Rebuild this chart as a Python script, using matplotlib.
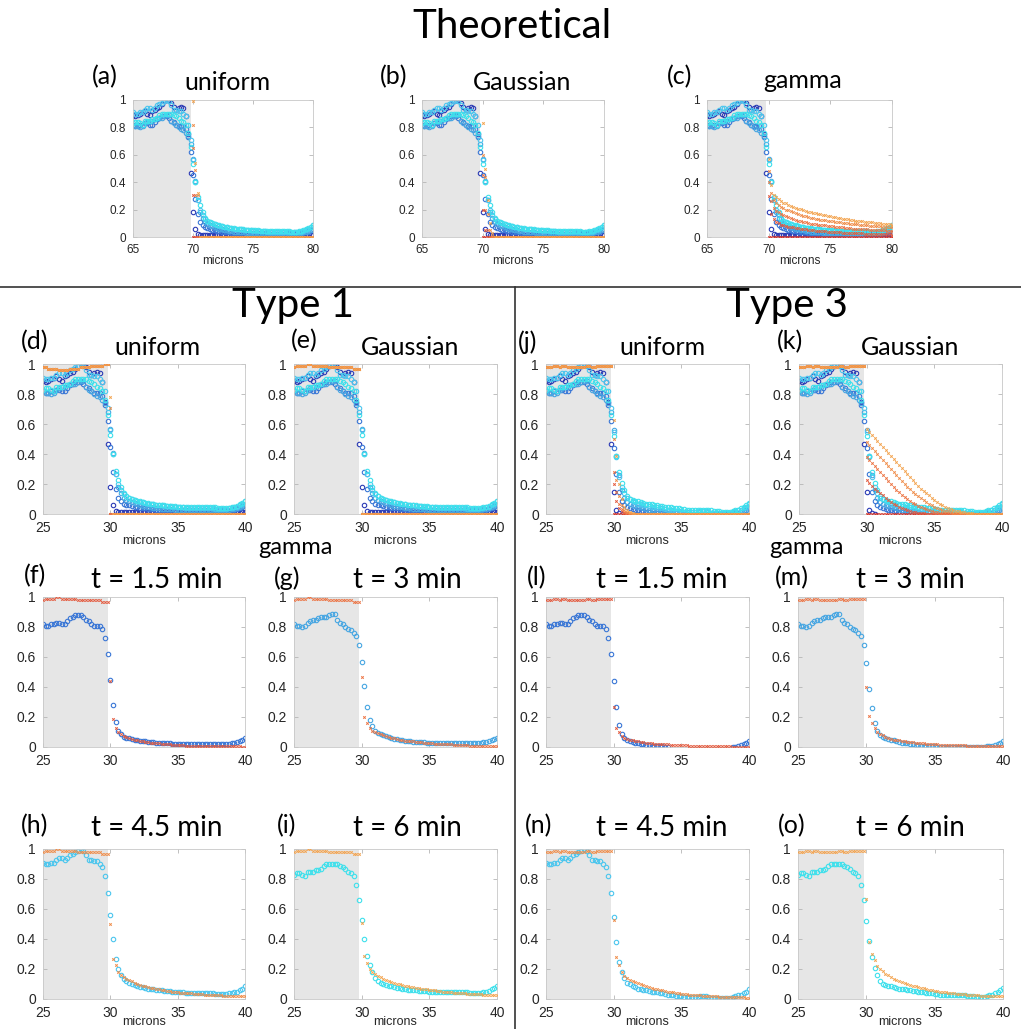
import numpy as np
import matplotlib
matplotlib.use('Agg')
import matplotlib.pyplot as plt
from matplotlib.lines import Line2D

# sample positions (microns); the first 25 samples lie inside the cell
x_grid = np.linspace(25.0, 40.0, 76)
n_cell = 25
x_ticks = [25, 30, 35, 40]
y_ticks = [0, 0.2, 0.4, 0.6, 0.8, 1]
y_ticklabels = ['0', '0.2', '0.4', '0.6', '0.8', '1']

# measured profiles inside the cell (25.0 .. 29.8), one per time point
cell_t0 = [0.89, 0.88, 0.89, 0.90, 0.91, 0.92, 0.90, 0.89, 0.92, 0.93,
           0.94, 0.95, 0.97, 0.99, 1.00, 1.00, 0.98, 0.95, 0.93, 0.94,
           0.95, 0.94, 0.88, 0.75, 0.47]
cell_t15 = [0.82, 0.81, 0.81, 0.82, 0.82, 0.83, 0.83, 0.82, 0.82, 0.84,
            0.86, 0.87, 0.88, 0.88, 0.88, 0.87, 0.85, 0.84, 0.82, 0.81,
            0.81, 0.81, 0.79, 0.73, 0.62]
cell_t3 = [0.82, 0.81, 0.81, 0.80, 0.81, 0.83, 0.84, 0.85, 0.85, 0.86,
           0.87, 0.87, 0.87, 0.88, 0.89, 0.89, 0.85, 0.83, 0.82, 0.80,
           0.79, 0.78, 0.76, 0.74, 0.68]
cell_t45 = [0.91, 0.90, 0.90, 0.91, 0.91, 0.93, 0.94, 0.94, 0.93, 0.94,
            0.96, 0.97, 0.98, 0.99, 1.00, 0.99, 0.96, 0.93, 0.93, 0.92,
            0.92, 0.90, 0.88, 0.82, 0.71]
cell_t6 = [0.83, 0.84, 0.84, 0.83, 0.82, 0.85, 0.85, 0.85, 0.86, 0.86,
           0.87, 0.89, 0.90, 0.90, 0.90, 0.90, 0.90, 0.89, 0.88, 0.87,
           0.85, 0.84, 0.82, 0.76, 0.66]

# measured profiles outside the cell (30.0 .. 40.0), Type 1 background
out1_t0 = [0.18, 0.06, 0.02, 0.016, 0.015,
           0.015, 0.015, 0.014, 0.014, 0.014,
           0.014, 0.013, 0.013, 0.013, 0.013,
           0.012, 0.012, 0.012, 0.012, 0.012,
           0.011, 0.011, 0.011, 0.011, 0.011,
           0.011, 0.01, 0.01, 0.01, 0.01,
           0.01, 0.01, 0.01, 0.01, 0.01,
           0.01, 0.01, 0.009, 0.009, 0.009,
           0.009, 0.009, 0.009, 0.009, 0.009,
           0.009, 0.009, 0.01, 0.01, 0.011,
           0.012]
out1_t15 = [0.45, 0.28, 0.17, 0.11, 0.085,
            0.07, 0.063, 0.058, 0.053, 0.05,
            0.046, 0.043, 0.04, 0.038, 0.035,
            0.033, 0.031, 0.03, 0.028, 0.027,
            0.026, 0.025, 0.024, 0.023, 0.022,
            0.022, 0.021, 0.021, 0.02, 0.02,
            0.02, 0.02, 0.02, 0.02, 0.02,
            0.02, 0.02, 0.02, 0.02, 0.02,
            0.02, 0.02, 0.02, 0.021, 0.022,
            0.025, 0.03, 0.035, 0.04, 0.05,
            0.06]
out1_t3 = [0.57, 0.41, 0.27, 0.18, 0.14,
           0.11, 0.095, 0.085, 0.078, 0.072,
           0.066, 0.06, 0.056, 0.052, 0.048,
           0.045, 0.042, 0.04, 0.038, 0.036,
           0.034, 0.033, 0.032, 0.031, 0.03,
           0.029, 0.028, 0.027, 0.027, 0.026,
           0.026, 0.025, 0.025, 0.025, 0.025,
           0.025, 0.025, 0.025, 0.025, 0.026,
           0.026, 0.027, 0.028, 0.029, 0.03,
           0.032, 0.035, 0.04, 0.045, 0.052,
           0.06]
out1_t45 = [0.56, 0.40, 0.27, 0.20, 0.16,
            0.135, 0.12, 0.11, 0.1, 0.093,
            0.088, 0.083, 0.078, 0.074, 0.07,
            0.067, 0.064, 0.062, 0.06, 0.058,
            0.056, 0.054, 0.052, 0.05, 0.048,
            0.046, 0.045, 0.044, 0.043, 0.042,
            0.041, 0.04, 0.04, 0.04, 0.04,
            0.04, 0.039, 0.038, 0.037, 0.036,
            0.035, 0.035, 0.035, 0.036, 0.038,
            0.04, 0.045, 0.05, 0.06, 0.07,
            0.085]
out1_t6 = [0.53, 0.40, 0.29, 0.23, 0.18,
           0.14, 0.12, 0.11, 0.1, 0.095,
           0.09, 0.085, 0.08, 0.076, 0.072,
           0.069, 0.066, 0.063, 0.061, 0.059,
           0.057, 0.055, 0.054, 0.052, 0.051,
           0.05, 0.049, 0.048, 0.047, 0.046,
           0.045, 0.045, 0.045, 0.045, 0.045,
           0.045, 0.045, 0.046, 0.047, 0.045,
           0.042, 0.04, 0.04, 0.04, 0.042,
           0.045, 0.05, 0.055, 0.065, 0.075,
           0.09]

# measured profiles outside the cell, Type 3 background (negatives fall off the axes)
out3_t0 = [0.15, 0.03, 0.004, 0.001, -0.002] + [-0.004] * 46
out3_t15 = [0.44, 0.27, 0.15, 0.09, 0.06,
            0.05, 0.04, 0.035, 0.03, 0.025,
            0.02, 0.02, 0.015, 0.015, 0.01,
            0.01, 0.008, 0.006, 0.004, 0.002,
            0.0, -0.002, -0.003, -0.004, -0.005,
            -0.005, -0.005, -0.005, -0.005, -0.005,
            -0.005, -0.005, -0.005, -0.005, -0.005,
            -0.005, -0.005, -0.005, -0.005, -0.005,
            -0.005, -0.005, -0.004, -0.003, 0.0,
            0.003, 0.008, 0.015, 0.022, 0.03,
            0.04]
out3_t3 = [0.56, 0.39, 0.26, 0.16, 0.11,
           0.08, 0.07, 0.06, 0.055, 0.05,
           0.045, 0.04, 0.035, 0.03, 0.028,
           0.025, 0.02, 0.018, 0.015, 0.012,
           0.01, 0.01, 0.008, 0.006, 0.005,
           0.004, 0.003, 0.003, 0.002, 0.002,
           0.002, 0.001, 0.001, 0.001, 0.001,
           0.001, 0.001, 0.001, 0.001, 0.001,
           0.001, 0.001, 0.002, 0.003, 0.004,
           0.006, 0.01, 0.015, 0.02, 0.03,
           0.04]
out3_t45 = [0.55, 0.38, 0.25, 0.18, 0.14,
            0.11, 0.1, 0.09, 0.08, 0.07,
            0.065, 0.06, 0.06, 0.055, 0.05,
            0.05, 0.045, 0.04, 0.04, 0.035,
            0.03, 0.03, 0.025, 0.02, 0.02,
            0.018, 0.016, 0.015, 0.015, 0.015,
            0.015, 0.016, 0.018, 0.02, 0.018,
            0.015, 0.01, 0.008, 0.006, 0.005,
            0.005, 0.006, 0.008, 0.01, 0.015,
            0.02, 0.025, 0.03, 0.04, 0.05,
            0.065]
out3_t6 = [0.52, 0.39, 0.28, 0.21, 0.16,
           0.12, 0.1, 0.095, 0.09, 0.085,
           0.08, 0.075, 0.07, 0.068, 0.065,
           0.06, 0.058, 0.055, 0.052, 0.05,
           0.048, 0.045, 0.042, 0.04, 0.038,
           0.035, 0.033, 0.03, 0.03, 0.028,
           0.027, 0.026, 0.025, 0.025, 0.025,
           0.025, 0.024, 0.022, 0.02, 0.018,
           0.016, 0.015, 0.014, 0.015, 0.02,
           0.025, 0.03, 0.04, 0.05, 0.06,
           0.075]

# model values inside the cell
model_cell_t1 = [0.98, 0.99, 0.99, 0.99, 0.99, 1.0, 1.0, 0.99, 0.99, 0.99,
                 0.99, 0.99, 0.99, 0.98, 0.98, 0.98, 0.98, 0.98, 0.98, 0.98,
                 0.98, 0.98, 0.97, 0.97, 0.97]
model_cell_t1_uniform = [0.98, 0.98, 0.97, 0.97, 0.97, 0.97, 0.96, 0.96, 0.96, 0.96,
                         0.97, 0.97, 0.97, 0.97, 0.98, 0.98, 0.98, 0.98, 0.99, 0.99,
                         0.99, 0.99, 0.99, 1.0, 1.0]
model_cell_t3 = [0.98, 0.98, 0.98, 0.99, 0.99, 0.98, 0.99, 0.99, 0.98, 0.98,
                 0.98, 0.98, 0.98, 0.98, 0.98, 0.99, 0.99, 0.98, 0.98, 0.99,
                 0.99, 0.99, 0.99, 0.99, 0.99]

zero_tail = [0.0] * 51

# theoretical model tails (70.0 .. 80.0)
theo_uni_t15 = [0.31] + [0.0] * 50
theo_uni_t3 = [0.65, 0.31] + [0.0] * 49
theo_uni_t45 = [0.82, 0.49, 0.31] + [0.0] * 48
theo_uni_t6 = [0.99, 0.54, 0.32] + [0.0] * 48

theo_gau_t15 = [0.2, 0.05] + [0.0] * 49
theo_gau_t3 = [0.45, 0.2, 0.05] + [0.0] * 48
theo_gau_t45 = [0.6, 0.44, 0.17, 0.05, 0.01] + [0.0] * 46
theo_gau_t6 = [0.83, 0.5, 0.27, 0.1, 0.03] + [0.0] * 46

theo_gam_t15 = [0.3, 0.17, 0.13, 0.11, 0.1,
                0.09, 0.085, 0.08, 0.076, 0.072,
                0.07, 0.067, 0.064, 0.061, 0.058,
                0.055, 0.053, 0.051, 0.049, 0.047,
                0.045, 0.044, 0.042, 0.041, 0.04,
                0.038, 0.037, 0.036, 0.035, 0.034,
                0.032, 0.031, 0.03, 0.03, 0.029,
                0.028, 0.027, 0.027, 0.026, 0.025,
                0.024, 0.024, 0.023, 0.022, 0.022,
                0.021, 0.02, 0.02, 0.019, 0.019,
                0.018]
theo_gam_t3 = [0.4, 0.26, 0.21, 0.19, 0.18,
               0.17, 0.16, 0.15, 0.143, 0.136,
               0.13, 0.125, 0.12, 0.115, 0.11,
               0.106, 0.102, 0.098, 0.094, 0.092,
               0.09, 0.088, 0.086, 0.084, 0.082,
               0.08, 0.078, 0.076, 0.074, 0.072,
               0.07, 0.068, 0.066, 0.064, 0.062,
               0.06, 0.059, 0.058, 0.057, 0.056,
               0.055, 0.054, 0.053, 0.052, 0.051,
               0.05, 0.049, 0.048, 0.047, 0.046,
               0.045]
theo_gam_t45 = [0.48, 0.32, 0.27, 0.25, 0.235,
                0.22, 0.21, 0.2, 0.195, 0.187,
                0.18, 0.174, 0.168, 0.162, 0.156,
                0.15, 0.146, 0.142, 0.138, 0.134,
                0.13, 0.127, 0.124, 0.122, 0.12,
                0.118, 0.115, 0.112, 0.109, 0.106,
                0.104, 0.102, 0.1, 0.098, 0.096,
                0.094, 0.092, 0.09, 0.088, 0.086,
                0.084, 0.082, 0.08, 0.079, 0.078,
                0.077, 0.075, 0.074, 0.072, 0.071,
                0.07]
theo_gam_t6 = [0.57, 0.38, 0.31, 0.29, 0.275,
               0.26, 0.25, 0.245, 0.235, 0.228,
               0.22, 0.214, 0.208, 0.202, 0.196,
               0.19, 0.186, 0.182, 0.178, 0.174,
               0.17, 0.166, 0.162, 0.158, 0.154,
               0.15, 0.147, 0.144, 0.141, 0.138,
               0.135, 0.132, 0.129, 0.126, 0.123,
               0.12, 0.118, 0.116, 0.114, 0.112,
               0.11, 0.108, 0.106, 0.104, 0.102,
               0.1, 0.098, 0.096, 0.094, 0.092,
               0.09]

# Type 1 / Type 3 uniform and Gaussian model tails (30.0 .. 40.0)
t1_uni_t45 = [0.71] + [0.0] * 50
t1_uni_t6 = [0.78] + [0.0] * 50

t3_uni_t15 = [0.2, 0.09, 0.04, 0.02, 0.01, 0.005] + [0.0] * 45
t3_uni_t3 = [0.28, 0.15, 0.07, 0.035, 0.015, 0.007, 0.003] + [0.0] * 44
t3_uni_t45 = [0.5, 0.23, 0.12, 0.06, 0.03, 0.015, 0.007, 0.003] + [0.0] * 43
t3_uni_t6 = [0.63, 0.39, 0.2, 0.1, 0.05, 0.025, 0.012, 0.006, 0.003] + [0.0] * 42

t3_gau_t15 = [0.23, 0.21, 0.19, 0.17, 0.155,
              0.14, 0.125, 0.11, 0.095, 0.082,
              0.07, 0.06, 0.05, 0.041, 0.033,
              0.027, 0.021, 0.016, 0.012, 0.009,
              0.007, 0.005, 0.003, 0.002, 0.001] + [0.0] * 26
t3_gau_t3 = [0.38, 0.36, 0.34, 0.32, 0.30,
             0.28, 0.26, 0.24, 0.22, 0.20,
             0.18, 0.16, 0.145, 0.13, 0.115,
             0.10, 0.088, 0.076, 0.065, 0.055,
             0.046, 0.038, 0.031, 0.025, 0.02,
             0.016, 0.012, 0.009, 0.007, 0.005,
             0.004, 0.003, 0.002, 0.001] + [0.0] * 17
t3_gau_t45 = [0.48, 0.46, 0.44, 0.42, 0.40,
              0.38, 0.36, 0.34, 0.32, 0.30,
              0.28, 0.26, 0.24, 0.22, 0.20,
              0.18, 0.165, 0.15, 0.135, 0.12,
              0.105, 0.092, 0.08, 0.068, 0.058,
              0.048, 0.04, 0.033, 0.027, 0.022,
              0.017, 0.013, 0.01, 0.008, 0.006,
              0.004, 0.003, 0.002, 0.001, 0.001] + [0.0] * 11
t3_gau_t6 = [0.57, 0.55, 0.53, 0.51, 0.49,
             0.47, 0.45, 0.43, 0.41, 0.39,
             0.37, 0.35, 0.33, 0.31, 0.29,
             0.27, 0.25, 0.23, 0.21, 0.19,
             0.17, 0.155, 0.14, 0.125, 0.11,
             0.095, 0.082, 0.07, 0.06, 0.05,
             0.042, 0.035, 0.028, 0.023, 0.018,
             0.014, 0.011, 0.008, 0.006, 0.004,
             0.003, 0.002, 0.001, 0.001] + [0.0] * 7

# gamma model tails, one per time point
gam1_t15 = [0.44, 0.19, 0.13, 0.1, 0.085,
            0.075, 0.067, 0.06, 0.055, 0.05,
            0.045, 0.042, 0.039, 0.036, 0.033,
            0.03, 0.028, 0.026, 0.024, 0.022,
            0.02, 0.018, 0.017, 0.016, 0.014,
            0.013, 0.012, 0.011, 0.01, 0.0095,
            0.009, 0.0085, 0.008, 0.0075, 0.007,
            0.007, 0.0065, 0.006, 0.006, 0.0055,
            0.005, 0.005, 0.0045, 0.0045, 0.004,
            0.004, 0.004, 0.0035, 0.0035, 0.003,
            0.003]
gam1_t3 = [0.47, 0.2, 0.16, 0.13, 0.11,
           0.1, 0.092, 0.085, 0.078, 0.071,
           0.065, 0.061, 0.057, 0.053, 0.049,
           0.045, 0.043, 0.041, 0.039, 0.037,
           0.035, 0.033, 0.031, 0.029, 0.027,
           0.025, 0.024, 0.023, 0.022, 0.021,
           0.02, 0.019, 0.018, 0.017, 0.016,
           0.015, 0.014, 0.013, 0.012, 0.011,
           0.01, 0.0095, 0.009, 0.0085, 0.008,
           0.008, 0.007, 0.0065, 0.006, 0.0055,
           0.005]
gam1_t45 = [0.5, 0.27, 0.23, 0.18, 0.16,
            0.145, 0.135, 0.125, 0.117, 0.11,
            0.1, 0.095, 0.09, 0.085, 0.08,
            0.075, 0.071, 0.068, 0.064, 0.061,
            0.058, 0.055, 0.052, 0.05, 0.047,
            0.045, 0.043, 0.041, 0.04, 0.038,
            0.037, 0.036, 0.034, 0.033, 0.031,
            0.03, 0.029, 0.028, 0.027, 0.026,
            0.025, 0.024, 0.023, 0.022, 0.021,
            0.02, 0.02, 0.019, 0.018, 0.018,
            0.017]
gam1_t6 = [0.51, 0.29, 0.24, 0.2, 0.18,
           0.165, 0.155, 0.145, 0.135, 0.127,
           0.12, 0.114, 0.108, 0.103, 0.099,
           0.095, 0.09, 0.086, 0.082, 0.078,
           0.075, 0.072, 0.069, 0.066, 0.064,
           0.062, 0.059, 0.057, 0.055, 0.052,
           0.05, 0.048, 0.047, 0.045, 0.043,
           0.042, 0.04, 0.039, 0.037, 0.036,
           0.035, 0.034, 0.033, 0.032, 0.031,
           0.03, 0.029, 0.028, 0.027, 0.026,
           0.025]
gam3_t15 = [0.27, 0.13, 0.1, 0.075, 0.062,
            0.055, 0.05, 0.045, 0.041, 0.037,
            0.034, 0.031, 0.029, 0.027, 0.025,
            0.023, 0.021, 0.02, 0.019, 0.018,
            0.017, 0.016, 0.015, 0.014, 0.013,
            0.012, 0.011, 0.011, 0.01, 0.01,
            0.009, 0.009, 0.008, 0.008, 0.007,
            0.007, 0.006, 0.006, 0.005, 0.005,
            0.005, 0.004, 0.004, 0.004, 0.003,
            0.003, 0.003, 0.002, 0.002, 0.002,
            0.002]
gam3_t3 = [0.4, 0.21, 0.16, 0.125, 0.1,
           0.088, 0.078, 0.07, 0.062, 0.056,
           0.05, 0.047, 0.044, 0.041, 0.038,
           0.035, 0.033, 0.031, 0.029, 0.027,
           0.025, 0.024, 0.022, 0.021, 0.019,
           0.018, 0.017, 0.016, 0.015, 0.015,
           0.014, 0.013, 0.013, 0.012, 0.012,
           0.011, 0.011, 0.01, 0.009, 0.009,
           0.008, 0.008, 0.007, 0.007, 0.007,
           0.006, 0.006, 0.006, 0.005, 0.005,
           0.005]
gam3_t45 = [0.53, 0.28, 0.23, 0.18, 0.155,
            0.14, 0.13, 0.12, 0.112, 0.105,
            0.1, 0.093, 0.087, 0.081, 0.075,
            0.07, 0.066, 0.062, 0.058, 0.054,
            0.05, 0.047, 0.044, 0.041, 0.038,
            0.035, 0.033, 0.031, 0.03, 0.028,
            0.027, 0.025, 0.024, 0.022, 0.021,
            0.02, 0.019, 0.018, 0.017, 0.016,
            0.015, 0.014, 0.014, 0.013, 0.013,
            0.012, 0.012, 0.011, 0.011, 0.01,
            0.01]
gam3_t6 = [0.67, 0.38, 0.3, 0.26, 0.22,
           0.2, 0.185, 0.17, 0.157, 0.145,
           0.135, 0.127, 0.12, 0.113, 0.106,
           0.1, 0.095, 0.09, 0.085, 0.08,
           0.075, 0.071, 0.067, 0.063, 0.059,
           0.055, 0.052, 0.049, 0.047, 0.044,
           0.042, 0.04, 0.038, 0.036, 0.034,
           0.032, 0.031, 0.029, 0.028, 0.026,
           0.025, 0.024, 0.023, 0.022, 0.021,
           0.02, 0.02, 0.019, 0.018, 0.018,
           0.017]

# colours per time point: 0, 1.5, 3, 4.5, 6 min
data_colors = ['#2b3bb5', '#3a77d6', '#47a6e2', '#4bc6ee', '#3ee0ec']
model_colors = ['#d9352a', '#e45a3e', '#ec7444', '#f08c48', '#f3a34e']

cells = [cell_t0, cell_t15, cell_t3, cell_t45, cell_t6]
meas1 = [c + o for c, o in zip(cells, [out1_t0, out1_t15, out1_t3, out1_t45, out1_t6])]
meas3 = [c + o for c, o in zip(cells, [out3_t0, out3_t15, out3_t3, out3_t45, out3_t6])]

W, H = 1021, 1029
fig = plt.figure(figsize=(W / 100, H / 100), dpi=100)
TITLE_FONT = 'Lato'
TICK_FONT = 'Liberation Sans'


def px_box(l, t, r, b):
    return [l / W, 1 - b / H, (r - l) / W, (b - t) / H]


def label(x, y, s, size=18, va='center'):
    fig.text(x / W, 1 - y / H, s, ha='center', va=va,
             fontsize=size, family=TITLE_FONT, color='black')


def microns(x, y, size):
    fig.text(x / W, 1 - y / H, 'microns', ha='center', va='center',
             fontsize=size, family=TICK_FONT, color='#262626')


def panel(rect, shift, measured, m_cols, models, mod_cols, tsize=10):
    ax = fig.add_axes(px_box(*rect))
    x = x_grid + shift
    ax.axvspan(x[0], x[n_cell - 1], color='#e6e6e6', lw=0, zorder=0)
    for y, c in zip(measured, m_cols):
        y = np.asarray(y, float)
        keep = y >= 0
        ax.plot(x[keep], y[keep], ls='none', marker='o', ms=3.2,
                mfc='none', mec=c, mew=0.8, zorder=2)
    for y, c in zip(models, mod_cols):
        y = np.asarray(y, float)
        xs = x[-len(y):]
        ax.plot(xs, y, ls='none', marker='x', ms=1.8, mew=0.7,
                color=c, zorder=3)
    ax.set_xlim(x[0], x[-1])
    ax.set_ylim(0, 1)
    ax.set_xticks([t + shift for t in x_ticks])
    ax.set_xticklabels([str(t + shift) for t in x_ticks],
                       family=TICK_FONT, fontsize=tsize)
    ax.set_yticks(y_ticks)
    ax.set_yticklabels(y_ticklabels, family=TICK_FONT, fontsize=tsize)
    ax.tick_params(direction='in', length=3, width=0.6, color='#b5b5b5',
                   labelcolor='#262626', top=True, right=True)
    ax.tick_params(axis='x', pad=5)
    ax.tick_params(axis='y', pad=5)
    for s in ax.spines.values():
        s.set_color('#c8c8c8')
        s.set_linewidth(0.6)
    return ax


# Theoretical row
theo_models = {
    'uniform': [zero_tail, theo_uni_t15, theo_uni_t3, theo_uni_t45, theo_uni_t6],
    'Gaussian': [zero_tail, theo_gau_t15, theo_gau_t3, theo_gau_t45, theo_gau_t6],
    'gamma': [zero_tail, theo_gam_t15, theo_gam_t3, theo_gam_t45, theo_gam_t6],
}
theo_rects = [(133, 100, 313, 237), (422, 100, 604, 237), (707, 100, 892, 237)]
for rect, key in zip(theo_rects, ['uniform', 'Gaussian', 'gamma']):
    panel(rect, 40, meas1, data_colors, theo_models[key], model_colors, tsize=8.5)

label(512, 26, 'Theoretical', 29)
label(105, 77, '(a)')
label(227, 82, 'uniform')
label(394, 77, '(b)')
label(522, 82, 'Gaussian')
label(680, 77, '(c)')
label(803, 80, 'gamma')
for cx in [223, 513, 800]:
    microns(cx, 261, 8.5)

# Type 1 and Type 3: uniform / Gaussian
t1_uni = [model_cell_t1_uniform + t for t in [zero_tail, zero_tail, zero_tail, t1_uni_t45, t1_uni_t6]]
t1_gau = [model_cell_t1 + zero_tail for _ in range(5)]
t3_uni = [model_cell_t3 + t for t in [zero_tail, t3_uni_t15, t3_uni_t3, t3_uni_t45, t3_uni_t6]]
t3_gau = [model_cell_t3 + t for t in [zero_tail, t3_gau_t15, t3_gau_t3, t3_gau_t45, t3_gau_t6]]

panel((43, 364, 245, 514), 0, meas1, data_colors, t1_uni, model_colors)
panel((294, 364, 497, 514), 0, meas1, data_colors, t1_gau, model_colors)
panel((546, 364, 749, 514), 0, meas3, data_colors, t3_uni, model_colors)
panel((799, 364, 1002, 514), 0, meas3, data_colors, t3_gau, model_colors)

label(293, 305, 'Type 1', 29)
label(787, 305, 'Type 3', 29)
label(35, 342, '(d)')
label(157, 347, 'uniform')
label(304, 341, '(e)')
label(410, 347, 'Gaussian')
label(528, 342, '(j)')
label(662, 347, 'uniform')
label(790, 342, '(k)')
label(910, 347, 'Gaussian')
# gamma section headers sit just under the tick labels of the row above
label(295, 554, 'gamma', 17, va='baseline')
label(806, 554, 'gamma', 17, va='baseline')
for cx in [144, 395, 647, 900]:
    microns(cx, 541, 9)

# gamma rows, one time point per panel
gam1 = [gam1_t15, gam1_t3, gam1_t45, gam1_t6]
gam3 = [gam3_t15, gam3_t3, gam3_t45, gam3_t6]
gamma_rects_1 = [(43, 597, 245, 747), (294, 597, 497, 747),
                 (43, 849, 245, 999), (294, 849, 497, 999)]
gamma_rects_3 = [(546, 597, 749, 747), (798, 597, 1003, 747),
                 (546, 849, 749, 999), (798, 849, 1003, 999)]
for k in range(4):
    i = k + 1
    panel(gamma_rects_1[k], 0, [meas1[i]], [data_colors[i]],
          [model_cell_t1 + gam1[k]], [model_colors[i]])
    panel(gamma_rects_3[k], 0, [meas3[i]], [data_colors[i]],
          [model_cell_t3 + gam3[k]], [model_colors[i]])

label(35, 576, '(f)')
label(157, 580, 't = 1.5 min', 20)
label(287, 578, '(g)')
label(407, 580, 't = 3 min', 20)
label(537, 578, '(l)')
label(662, 580, 't = 1.5 min', 20)
label(792, 578, '(m)')
label(910, 580, 't = 3 min', 20)
label(35, 826, '(h)')
label(157, 828, 't = 4.5 min', 20)
label(287, 826, '(i)')
label(407, 828, 't = 6 min', 20)
label(539, 826, '(n)')
label(662, 828, 't = 4.5 min', 20)
label(792, 826, '(o)')
label(910, 828, 't = 6 min', 20)
for cx in [144, 395, 647, 900]:
    microns(cx, 1022, 9)

# section dividers
fig.add_artist(Line2D([0, 1], [1 - 287 / H, 1 - 287 / H], color='#333333', lw=1.2))
fig.add_artist(Line2D([515 / W, 515 / W], [0, 1 - 287 / H], color='#333333', lw=1.2))

fig.savefig('out.png', dpi=100)
